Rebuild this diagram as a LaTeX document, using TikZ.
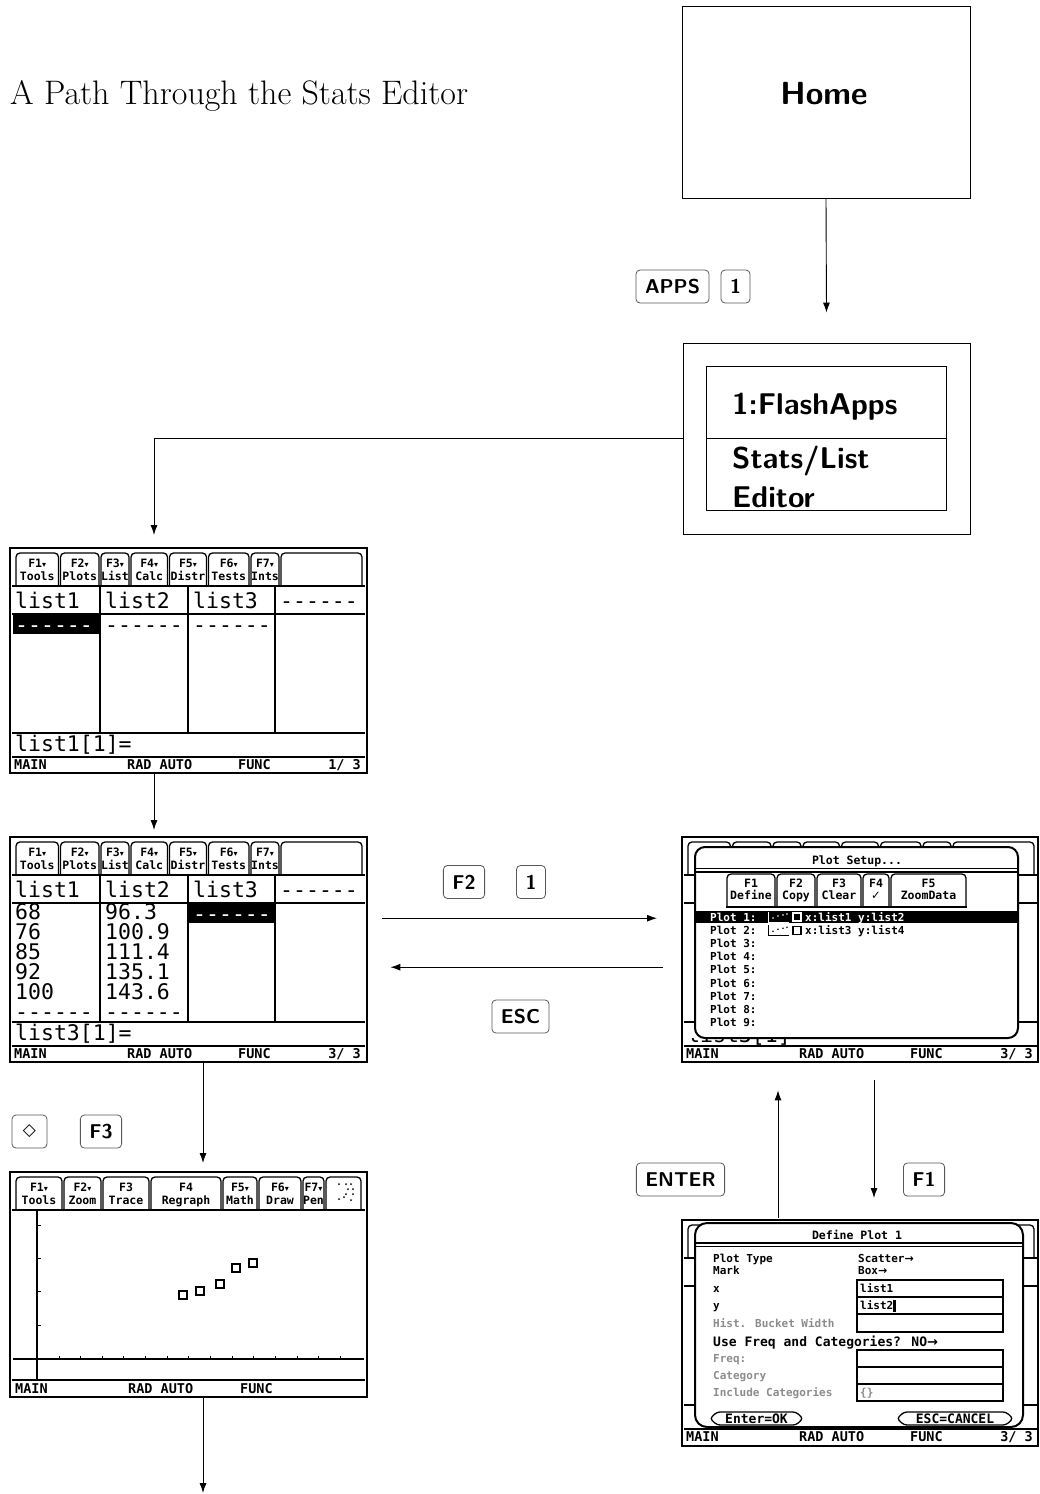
\documentclass[tikz,border=0pt]{standalone}
\usepackage{fontspec}
\newfontfamily\scrmono{DejaVu Sans Mono}
\newfontfamily\djsans{DejaVu Sans}
\usetikzlibrary{arrows.meta,calc}
\newcounter{tnum}
\newif\iftablabels \tablabelstrue
\newcommand\stext[3][]{\stepcounter{tnum}\node[#1] (tx\arabic{tnum}) at #2 {#3};}
\newcommand\dn{{\djsans\fontsize{8}{8}\selectfont ▾}}
\tikzset{
  scr/.style={line width=1.5pt},
  tabl/.style={line width=1.3pt, rounded corners=4pt},
  tabf/.style={font=\scrmono\bfseries\fontsize{11.5}{12}\selectfont, inner sep=0, text height=8.4pt, text depth=0pt},
  big/.style={font=\scrmono\fontsize{21.5}{24}\selectfont, inner sep=0, anchor=west, text height=15.7pt, text depth=0pt},
  stat/.style={font=\scrmono\bfseries\fontsize{13.5}{14}\selectfont, inner sep=0, anchor=west, text height=9.9pt, text depth=0pt},
  dlg/.style={font=\scrmono\bfseries\fontsize{11}{12}\selectfont, inner sep=0, anchor=west, text height=8pt, text depth=0pt},
  dlgb/.style={font=\scrmono\bfseries\fontsize{13}{14}\selectfont, inner sep=0, anchor=west, text height=9.5pt, text depth=0pt},
  grey/.style={text=black!45},
  key/.style={draw=black!65, line width=0.8pt, rounded corners=4pt, font=\sffamily\bfseries\fontsize{20}{24}\selectfont, minimum height=33pt, inner xsep=9pt, inner ysep=0pt, minimum width=29pt},
  arr/.style={line width=0.9pt, -{Latex[length=10pt,width=7pt]}},
  frame/.style={line width=2.2pt},
  box/.style={draw, line width=0.9pt, inner sep=0},
  screen/.style={inner sep=0, minimum width=357pt, minimum height=225pt, anchor=north west},
  bigt/.style={font=\sffamily\bfseries\fontsize{30}{36}\selectfont, anchor=base west, inner sep=0}
}
\newcommand\tabb[4]{%
  \draw[tabl] (#1+1,38) -- (#1+1,5) -- (#2-1,5) -- (#2-1,38);
  \iftablabels
  \stext[tabf]{({(#1+#2)/2},15)}{#3}
  \stext[tabf]{({(#1+#2)/2},28)}{#4}
  \fi
}
\newcommand\itab[4]{%
  \draw[tabl] (#1+1,70) -- (#1+1,37) -- (#2-1,37) -- (#2-1,70);
  \stext[tabf]{({(#1+#2)/2},46)}{#3}
  \stext[tabf]{({(#1+#2)/2},58)}{#4}
}
\newcommand\statusbar[1]{%
  \draw[scr] (2,209) -- (355,209);
  \stext[stat]{(4,217)}{MAIN}
  \stext[stat]{(117,217)}{RAD AUTO}
  \stext[stat]{(228,217)}{FUNC}
  \stext[stat,anchor=east]{(351,217)}{#1}
}
% tabs, grid lines and status bar of the list editor
\newcommand\listframe[1]{%
  \tabb{5}{49.5}{F1\dn}{Tools}
  \tabb{49.5}{90}{F2\dn}{Plots}
  \tabb{90}{120}{F3\dn}{List}
  \tabb{120}{158.5}{F4\dn}{Calc}
  \tabb{158.5}{197.5}{F5\dn}{Distr}
  \tabb{197.5}{240}{F6\dn}{Tests}
  \tabb{240}{270}{F7\dn}{Ints}
  \tabb{270}{353}{}{}
  \draw[scr] (2,38) -- (355,38);
  \draw[scr] (90,38) -- (90,185) (178,38) -- (178,185) (265,38) -- (265,185);
  \draw[scr] (2,66) -- (355,66);
  \draw[scr] (2,185) -- (355,185);
  \statusbar{#1}
}
% header texts and entry line
\newcommand\listhead[1]{%
  \stext[big]{(5,53)}{list1}
  \stext[big]{(95,53)}{list2}
  \stext[big]{(183,53)}{list3}
  \stext[big]{(270,53)}{------}
  \stext[big]{(5,196)}{#1}
}
\begin{document}
\begin{tikzpicture}[x=1pt,y=-1pt]
\useasboundingbox (0,0) rectangle (1039,1494);

% title
\node[anchor=base west, inner sep=0, font=\fontsize{34}{40}\selectfont] (title) at (10,104) {A Path Through the Stats Editor};

% Home box
\node[box, minimum width=288pt, minimum height=192pt] (home) at (826,102) {};
\node[font=\sffamily\bfseries\fontsize{32}{38}\selectfont, anchor=base, inner sep=0] (hometext) at (824,104) {Home};

% FlashApps box
\node[box, minimum width=287pt, minimum height=191pt] (flash) at (826.5,438.5) {};
\node[box, minimum width=240pt, minimum height=144pt] (menu) at (826.5,438.5) {};
\draw[line width=0.9pt] (menu.west) -- (menu.east);
\node[bigt] (fa1) at (732,414) {1:FlashApps};
\node[bigt] (fa2) at (732,468) {Stats/List};
\node[bigt] (fa3) at (732,507) {Editor};

% keys
\node[key] (kapps) at (672.5,286.5) {APPS};
\node[key] (k1a) at (735.5,286.5) {1};
\node[key] (kf2) at (464,882) {F2};
\node[key] (k1b) at (531,882) {1};
\node[key] (kesc) at (520.5,1016.5) {ESC};
\node[key, font=\djsans\fontsize{17}{20}\selectfont, minimum width=35pt] (kdia) at (29.5,1131.5) {◇};
\node[key] (kf3) at (101,1131.5) {F3};
\node[key] (kenter) at (680.5,1179.5) {ENTER};
\node[key] (kf1) at (924,1179.5) {F1};

% screen placeholders
\node[screen] (s1) at (10,548) {};
\node[screen] (s2) at (10,837) {};
\node[screen, minimum width=356pt] (s3) at (682,837) {};
\node[screen] (s4) at (10,1172) {};
\node[screen, minimum width=356pt, minimum height=226pt] (s5) at (682,1220) {};

% ---------- screen 1
\begin{scope}[shift={(10,548)}]
  \listframe{1/ 3}
  \listhead{list1[1]=}
  \fill (3,67) rectangle (89,86);
  \stext[big,text=white]{(5,77)}{------}
  \stext[big]{(95,77)}{------}
  \stext[big]{(183,77)}{------}
  \draw[frame] (0,0) rectangle (357,225);
\end{scope}

% ---------- screen 2
\begin{scope}[shift={(10,837)}]
  \listframe{3/ 3}
  \listhead{list3[1]=}
  \foreach \v [count=\i] in {68,76,85,92,100,------}
    {\stext[big]{(5,{55+20*\i})}{\v}}
  \foreach \v [count=\i] in {96.3,100.9,111.4,135.1,143.6,------}
    {\stext[big]{(95,{55+20*\i})}{\v}}
  \fill (179,67) rectangle (264,86);
  \stext[big,text=white]{(183,76.5)}{------}
  \draw[frame] (0,0) rectangle (357,225);
\end{scope}

% ---------- screen 3 : Plot Setup
\begin{scope}[shift={(682,837)}]
  \tablabelsfalse
  \listframe{3/ 3}
  \begin{scope}
    \clip (2,201) rectangle (355,208);
    \stext[big]{(5,198)}{list3[1]=}
  \end{scope}
  \draw[line width=2pt, fill=white, rounded corners=10pt] (13,10) rectangle (336,201);
  \stext[tabf]{(175,23)}{Plot Setup...}
  \draw[line width=1.2pt] (13,31.5) -- (336,31.5) (13,35) -- (336,35);
  \itab{44}{94}{F1}{Define}
  \itab{94}{134}{F2}{Copy}
  \itab{134}{180}{F3}{Clear}
  \itab{180}{208}{F4}{{\djsans ✓}}
  \itab{208}{285}{F5}{ZoomData}
  \draw[scr] (44,70) -- (285,70);
  \fill (13,74) rectangle (336,86);
  \stext[dlg,text=white]{(28,80)}{Plot 1:}
  \foreach \i in {2,...,9}
    {\stext[dlg]{(28,{80+13.2*(\i-1)})}{Plot \i:}}
  % row 1 icon (white)
  \draw[white, line width=1pt] (86,75) -- (86,85) -- (107,85);
  \foreach \p in {(91,81),(96,79),(101,78),(105,77)} \fill[white] \p circle (0.9pt);
  \draw[white, line width=1.2pt] (111,76) rectangle (119,84);
  \stext[dlg,text=white]{(123,80)}{x:list1 y:list2}
  % row 2 icon
  \begin{scope}[yshift=-13.2pt]
    \draw[line width=1pt] (86,75) -- (86,85) -- (107,85);
    \foreach \p in {(91,81),(96,79),(101,78),(105,77)} \fill \p circle (0.9pt);
    \draw[line width=1.2pt] (111,76) rectangle (119,84);
  \end{scope}
  \stext[dlg]{(123,93.2)}{x:list3 y:list4}
  \draw[frame] (0,0) rectangle (356,225);
\end{scope}

% ---------- screen 4 : graph
\begin{scope}[shift={(10,1172)}]
  \tabb{5}{53}{F1\dn}{Tools}
  \tabb{53}{92}{F2\dn}{Zoom}
  \tabb{92}{140}{F3}{Trace}
  \tabb{140}{212}{F4}{Regraph}
  \tabb{212}{248}{F5\dn}{Math}
  \tabb{248}{292}{F6\dn}{Draw}
  \tabb{292}{315}{F7\dn}{Pen}
  \tabb{315}{352}{}{}
  \foreach \p in {(329,12),(336,12),(341,12),(338,17),(343,17),(336,22),(343,22),(329,27),(334,25),(341,28)}
    \fill \p circle (1pt);
  \draw[scr] (2,38) -- (355,38);
  \draw[line width=1.3pt] (27,38) -- (27,208);
  \draw[line width=1.3pt] (3,187) -- (354,187);
  \foreach \k in {0,...,13} \draw[line width=1pt] ({49+21.65*\k},183.5) -- ({49+21.65*\k},187);
  \foreach \yy in {53,86,119,153} \draw[line width=1pt] (27,\yy) -- (31,\yy);
  \foreach \p in {(173,123),(190,119),(210,112),(226,96),(243,91)}
    \draw[line width=1.5pt] \p ++(-4,-4) rectangle ++(8,8);
  \draw[scr] (2,208) -- (355,208);
  \stext[stat]{(5,217)}{MAIN}
  \stext[stat]{(118,217)}{RAD AUTO}
  \stext[stat]{(230,217)}{FUNC}
  \draw[frame] (0,0) rectangle (357,225);
\end{scope}

% ---------- screen 5 : Define Plot 1
\begin{scope}[shift={(682,1220)}]
  \tablabelsfalse
  \listframe{3/ 3}
  \draw[line width=2pt, fill=white, rounded corners=12pt] (13,3) rectangle (341,207);
  \stext[tabf]{(175,15)}{Define Plot 1}
  \draw[line width=1.2pt] (13,23) -- (341,23) (13,26.5) -- (341,26.5);
  \stext[dlg]{(31,38)}{Plot Type}
  \stext[dlg]{(31,50)}{Mark}
  \stext[dlg]{(176,38)}{Scatter{\djsans →}}
  \stext[dlg]{(176,50)}{Box{\djsans →}}
  \stext[dlg]{(31,68.5)}{x}
  \stext[dlg]{(31,85.5)}{y}
  \stext[dlg,grey]{(31,103)}{Hist. Bucket Width}
  \stext[dlgb]{(31,122)}{Use Freq and Categories?  NO{\djsans →}}
  \stext[dlg,grey]{(31,138.5)}{Freq:}
  \stext[dlg,grey]{(31,155.5)}{Category}
  \stext[dlg,grey]{(31,172.5)}{Include Categories}
  \draw[line width=1.4pt] (175,60) rectangle (321,112);
  \draw[line width=1.4pt] (175,77) -- (321,77) (175,94) -- (321,94);
  \draw[line width=1.4pt] (175,130) rectangle (321,181);
  \draw[line width=1.4pt] (175,147) -- (321,147) (175,164) -- (321,164);
  \stext[dlg]{(178,68.5)}{list1}
  \stext[dlg]{(178,85.5)}{list2}
  \fill (211,79.5) rectangle (214,92);
  \stext[dlg,grey]{(178,172.5)}{\{\}}
  \draw[line width=1.3pt, rounded corners=3pt] (28,198.5) -- (35,192) -- (114,192) -- (121,198.5) -- (114,205) -- (35,205) -- cycle;
  \stext[dlgb,anchor=center]{(74.5,198.5)}{Enter=OK}
  \draw[line width=1.3pt, rounded corners=3pt] (215,198.5) -- (222,192) -- (324,192) -- (331,198.5) -- (324,205) -- (222,205) -- cycle;
  \stext[dlgb,anchor=center]{(273,198.5)}{ESC=CANCEL}
  \draw[frame] (0,0) rectangle (356,226);
\end{scope}

% ---------- connectors
\draw[arr] (home.south) -- ([yshift=30pt]flash.north);
\draw[arr] (flash.west) -| ([xshift=144pt,yshift=13pt]s1.north west);
\draw[arr] ([xshift=144pt]s1.south west) -- ([xshift=144pt,yshift=7pt]s2.north west);
\draw[arr] ([xshift=15pt,yshift=31.5pt]s2.east) -- ([xshift=-25pt,yshift=31.5pt]s3.west);
\draw[arr] ([xshift=-19pt,yshift=-17.5pt]s3.west) -- ([xshift=23pt,yshift=-17.5pt]s2.east);
\draw[arr] ([xshift=193pt]s2.south west) -- ([xshift=193pt,yshift=9pt]s4.north west);
\coordinate (end) at (203,1493);
\draw[arr] ([xshift=193pt]s4.south west) -- (end);
\draw[arr] ([xshift=192pt,yshift=-18pt]s3.south west) -- ([xshift=192pt,yshift=22pt]s5.north west);
\draw[arr] ([xshift=96pt,yshift=2pt]s5.north west) -- ([xshift=96pt,yshift=-28pt]s3.south west);
\end{tikzpicture}
\end{document}
